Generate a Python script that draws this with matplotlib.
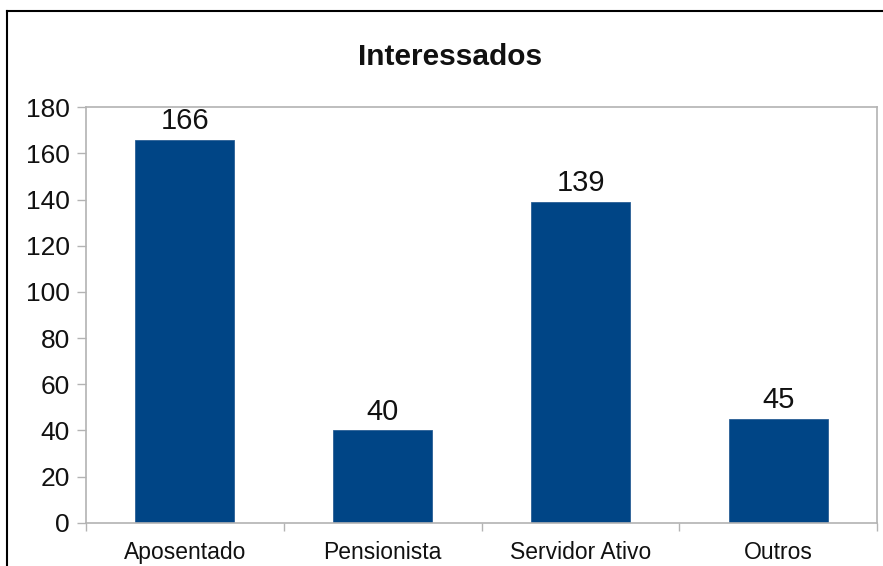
import matplotlib
matplotlib.use("Agg")
import matplotlib.pyplot as plt
from matplotlib.lines import Line2D

categories = ["Aposentado", "Pensionista", "Servidor Ativo", "Outros"]
values = [166, 40, 139, 45]
yticks = [0, 20, 40, 60, 80, 100, 120, 140, 160, 180]
title = "Interessados"

plt.rcParams['font.family'] = ['Liberation Sans', 'DejaVu Sans']

W, H = 883, 566
fig = plt.figure(figsize=(W / 100, H / 100), dpi=100)
ax = fig.add_axes([86 / W, 1 - 522.7 / H, (877.3 - 86) / W, (522.7 - 107.3) / H])

grey = "#b3b3b3"
x = list(range(len(categories)))
ax.bar(x, values, width=0.5, color="#004586", edgecolor="#2a5f95", linewidth=0.6, zorder=2)

for xi, v in zip(x, values):
    ax.annotate(str(v), (xi, v), xytext=(0, 3.5), textcoords="offset points",
                ha="center", va="bottom", fontsize=21, color="#111111")

ax.set_xlim(-0.5, len(categories) - 0.5)
ax.set_ylim(0, 180)
ax.set_yticks(yticks)
ax.set_yticklabels([str(t) for t in yticks])
ax.set_xticks(x)
ax.set_xticklabels(categories)
ax.set_xticks([i - 0.5 for i in range(len(categories) + 1)], minor=True)
ax.tick_params(axis="x", which="major", length=0, pad=13, labelsize=16.5, colors="#111111")
ax.tick_params(axis="x", which="minor", length=6, width=1, color=grey, direction="out")
ax.tick_params(axis="y", which="major", length=6.5, width=1, color=grey, direction="out",
               pad=5, labelsize=19, labelcolor="#111111")
for s in ax.spines.values():
    s.set_color(grey)
    s.set_linewidth(1.2)

fig.text(450 / W, 1 - 65 / H, title, ha="center", va="baseline",
         fontsize=21.5, fontweight="bold", color="#111111")

# outer chart border (top and left visible)
fig.add_artist(Line2D([7.5 / W, 7.5 / W], [0, 1 - 10.7 / H], transform=fig.transFigure,
                      color="black", linewidth=1.5))
fig.add_artist(Line2D([7.5 / W, 1], [1 - 10.7 / H, 1 - 10.7 / H], transform=fig.transFigure,
                      color="black", linewidth=1.5))

fig.savefig("out.png", dpi=100)
